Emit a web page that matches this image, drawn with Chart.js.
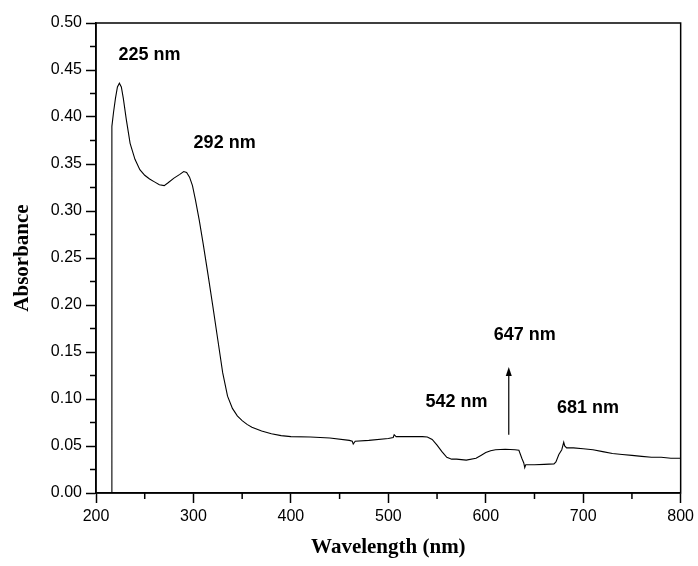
<!DOCTYPE html>
<html>
<head>
<meta charset="utf-8">
<script src="https://cdn.jsdelivr.net/npm/chart.js@4/dist/chart.umd.min.js"></script>
<style>
  html, body { margin: 0; padding: 0; background: #fff; }
  #wrap { width: 698px; height: 566px; }
</style>
</head>
<body>
<div id="wrap"><canvas id="uv"></canvas></div>
<script>
// wavelength (nm) and absorbance
var wavelength = [216, 216.3, 218, 220, 222, 224, 226, 228, 231, 235, 240, 245, 250, 255, 260, 265, 270, 274, 280, 286, 290, 293, 296, 299, 302, 306, 310, 315, 320, 325, 330, 335, 340, 345, 350, 355, 360, 370, 380, 390, 400, 420, 440, 460, 463, 464, 466, 480, 500, 505, 506, 508, 520, 535, 540, 545, 550, 555, 560, 565, 570, 580, 590, 595, 600, 605, 610, 620, 630, 634, 637, 639, 640, 641, 643, 650, 660, 670, 672, 675, 678, 680, 681, 683, 690, 700, 710, 720, 730, 740, 750, 760, 770, 780, 790, 800];
var absorbance = [0.000, 0.390, 0.405, 0.420, 0.432, 0.436, 0.432, 0.420, 0.398, 0.372, 0.355, 0.344, 0.338, 0.334, 0.331, 0.328, 0.327, 0.330, 0.335, 0.339, 0.342, 0.341, 0.336, 0.327, 0.312, 0.290, 0.265, 0.232, 0.198, 0.163, 0.128, 0.103, 0.090, 0.082, 0.077, 0.073, 0.070, 0.066, 0.063, 0.061, 0.060, 0.0595, 0.0585, 0.056, 0.055, 0.052, 0.055, 0.056, 0.058, 0.059, 0.062, 0.060, 0.060, 0.060, 0.0595, 0.057, 0.051, 0.044, 0.038, 0.036, 0.036, 0.035, 0.037, 0.040, 0.043, 0.045, 0.046, 0.0465, 0.046, 0.0455, 0.037, 0.032, 0.027, 0.030, 0.030, 0.030, 0.0305, 0.031, 0.033, 0.041, 0.046, 0.054, 0.050, 0.048, 0.048, 0.047, 0.046, 0.044, 0.042, 0.041, 0.040, 0.039, 0.038, 0.038, 0.037, 0.037];

// peak labels (text, x in nm, y in absorbance units)
var peakText = ['225 nm', '292 nm', '647 nm', '542 nm', '681 nm'];
var peakX = [255, 332, 640, 570, 705];
var peakY = [0.466, 0.372, 0.168, 0.097, 0.090];

// arrow under the 647 nm label
var arrowX = 623.6;
var arrowFrom = 0.062;
var arrowTo = 0.134;

var points = [];
for (var i = 0; i < wavelength.length; i++) {
    points.push({ x: wavelength[i], y: absorbance[i] });
}

// box, minor ticks, labels and arrow
var extras = {
    id: 'extras',
    afterDraw: function (chart) {
        var ctx = chart.ctx;
        var xs = chart.scales.x;
        var ys = chart.scales.y;
        var a = chart.chartArea;
        ctx.save();
        ctx.strokeStyle = '#000';
        ctx.lineWidth = 1.5;
        ctx.strokeRect(a.left, a.top, a.right - a.left, a.bottom - a.top);

        // minor ticks
        ctx.lineWidth = 1.5;
        ctx.beginPath();
        for (var v = 250; v < 800; v += 100) {
            var px = xs.getPixelForValue(v);
            ctx.moveTo(px, a.bottom);
            ctx.lineTo(px, a.bottom + 6);
        }
        for (var k = 1; k < 20; k += 2) {
            var py = ys.getPixelForValue(k * 0.025);
            ctx.moveTo(a.left, py);
            ctx.lineTo(a.left - 6, py);
        }
        ctx.stroke();

        ctx.fillStyle = '#000';
        ctx.font = 'bold 18px "Liberation Sans", Arial, sans-serif';
        ctx.textAlign = 'center';
        ctx.textBaseline = 'middle';
        for (var j = 0; j < peakText.length; j++) {
            ctx.fillText(peakText[j], xs.getPixelForValue(peakX[j]), ys.getPixelForValue(peakY[j]));
        }

        var ax = xs.getPixelForValue(arrowX);
        var y0 = ys.getPixelForValue(arrowFrom);
        var y1 = ys.getPixelForValue(arrowTo);
        ctx.lineWidth = 1.2;
        ctx.beginPath();
        ctx.moveTo(ax, y0);
        ctx.lineTo(ax, y1 + 8);
        ctx.stroke();
        ctx.beginPath();
        ctx.moveTo(ax, y1);
        ctx.lineTo(ax - 3, y1 + 9);
        ctx.lineTo(ax + 3, y1 + 9);
        ctx.closePath();
        ctx.fill();
        ctx.restore();
    }
};

var tickFont = { family: '"Liberation Sans", Arial, sans-serif', size: 16 };
var titleFont = { family: '"Liberation Serif", "Times New Roman", serif', size: 21, weight: 'bold' };

new Chart(document.getElementById('uv'), {
    type: 'scatter',
    data: {
        datasets: [{
            data: points,
            showLine: true,
            borderColor: '#000',
            borderWidth: 1.1,
            pointRadius: 0,
            tension: 0
        }]
    },
    options: {
        responsive: true,
        maintainAspectRatio: false,
        animation: false,
        layout: { padding: { left: 0, right: 17, top: 23, bottom: 0 } },
        plugins: { legend: { display: false }, tooltip: { enabled: false } },
        scales: {
            x: {
                type: 'linear',
                min: 200,
                max: 800,
                afterFit: function (s) { s.height = 73; },
                ticks: { stepSize: 100, color: '#000', font: tickFont, padding: 4, maxRotation: 0 },
                grid: { drawOnChartArea: false, drawTicks: true, tickLength: 10, tickWidth: 1.5, tickColor: '#000' },
                border: { color: '#000', width: 1.5 },
                title: { display: true, text: 'Wavelength (nm)', color: '#000', font: titleFont, padding: { top: 0, bottom: 6 } }
            },
            y: {
                min: 0,
                max: 0.5,
                afterFit: function (s) { s.width = 96; },
                ticks: {
                    stepSize: 0.05, color: '#000', font: tickFont, padding: 4,
                    callback: function (v) { return v.toFixed(2); }
                },
                grid: { drawOnChartArea: false, drawTicks: true, tickLength: 10, tickWidth: 1.5, tickColor: '#000' },
                border: { color: '#000', width: 1.5 },
                title: { display: true, text: 'Absorbance', color: '#000', font: titleFont, padding: { top: 10, bottom: 0 } }
            }
        }
    },
    plugins: [extras]
});
</script>
</body>
</html>
